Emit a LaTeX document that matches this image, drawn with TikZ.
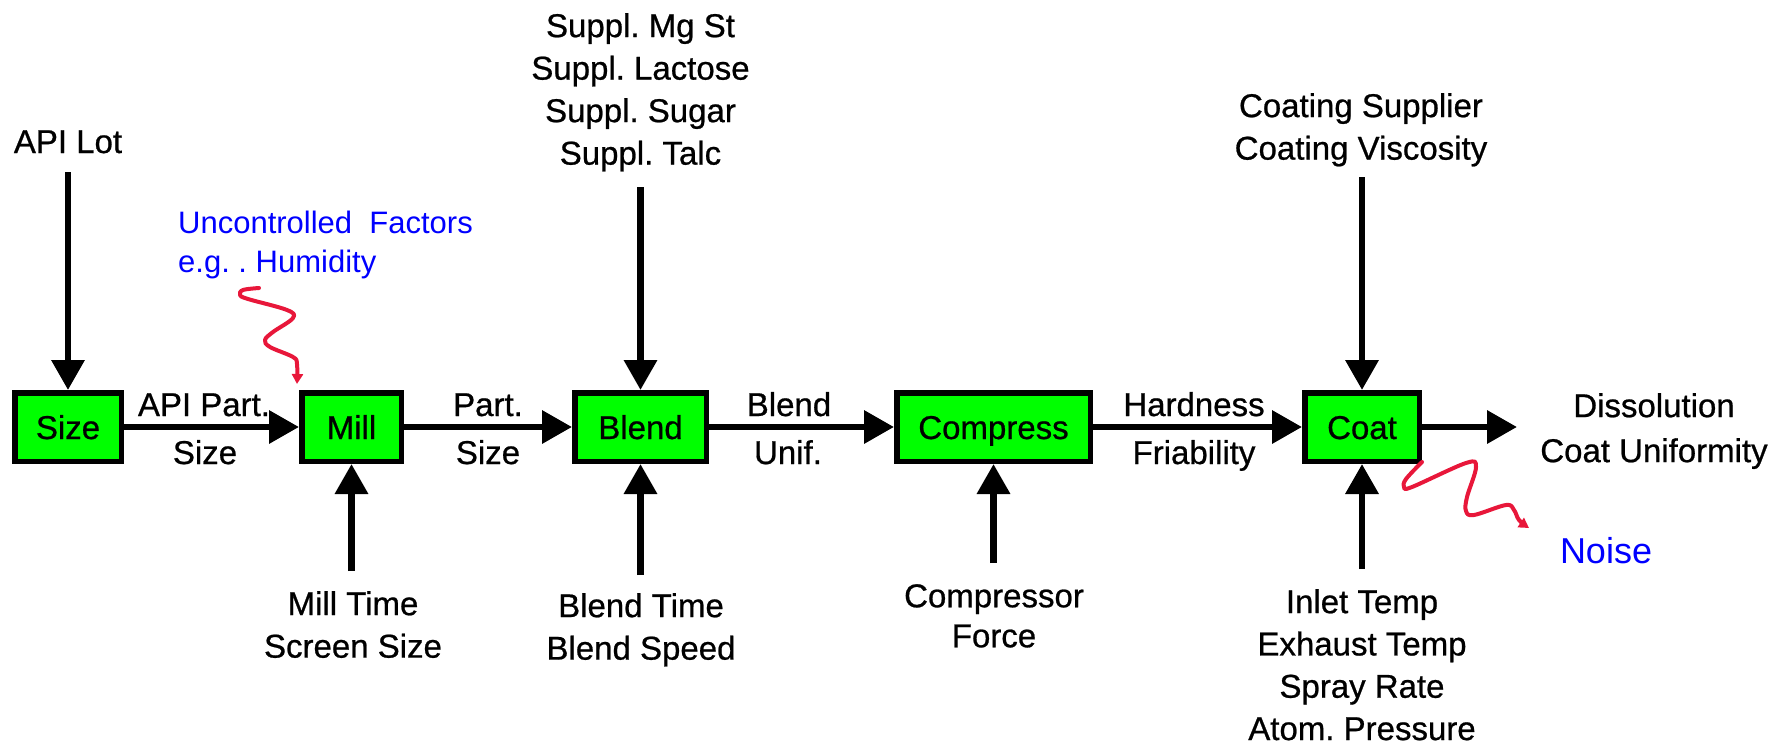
\documentclass[tikz,border=0pt]{standalone}
\usepackage{fontspec}
\setmainfont{Liberation Sans}
\newfontfamily\heavyfam[FakeBold=0.7]{Liberation Sans}
\usetikzlibrary{arrows.meta}
\definecolor{boxgreen}{RGB}{0,255,0}
\definecolor{squigred}{RGB}{232,23,58}
\definecolor{noteblue}{RGB}{0,0,255}
\newcommand\lblfont{\heavyfam\fontsize{33}{42.5}\selectfont}
\newcommand\notefont{\fontsize{31}{39}\selectfont}
\newcommand\noisefont{\fontsize{36}{42}\selectfont}
\frenchspacing
\begin{document}
\begin{tikzpicture}[x=1pt,y=-1pt,
  stepbox/.style={draw=black, fill=boxgreen, line width=5.5pt, inner sep=0pt,
    minimum height=68.5pt, font=\lblfont, text height=24pt, text depth=0pt},
  flow/.style={line width=6.5pt, -{Triangle[length=30pt,width=32pt]}},
  lbl/.style={inner sep=0pt, font=\lblfont, align=center},
  note/.style={inner sep=0pt, text=noteblue},
  squig/.style={draw=squigred, line width=4pt, line cap=round, line join=round,
    -{Triangle[length=10pt,width=11pt]}}]
\useasboundingbox (0,0) rectangle (1785,744);

% process boxes
\node[stepbox, minimum width=106.5pt] (size) at (68,427) {Size};
\node[stepbox, minimum width=99.5pt] (mill) at (351.5,427) {Mill};
\node[stepbox, minimum width=131.5pt] (blend) at (640.5,427) {Blend};
\node[stepbox, minimum width=193.5pt] (compress) at (993.5,427) {Compress};
\node[stepbox, minimum width=114.5pt] (coat) at (1362,427) {Coat};

% main flow
\coordinate (out) at (1517,427);
\draw[flow] (size.east) -- (mill.west);
\draw[flow] (mill.east) -- (blend.west);
\draw[flow] (blend.east) -- (compress.west);
\draw[flow] (compress.east) -- (coat.west);
\draw[flow] (coat.east) -- (out);

% flow labels
\node[lbl, anchor=base] (l1a) at (204,416) {API Part.};
\node[lbl, anchor=base] (l1b) at (205,464) {Size};
\node[lbl, anchor=base] (l2a) at (488,416) {Part.};
\node[lbl, anchor=base] (l2b) at (488,464) {Size};
\node[lbl, anchor=base] (l3a) at (789,416) {Blend};
\node[lbl, anchor=base] (l3b) at (788,464) {Unif.};
\node[lbl, anchor=base] (l4a) at (1194,416) {Hardness};
\node[lbl, anchor=base] (l4b) at (1194,464) {Friability};
\node[lbl, anchor=north, font=\heavyfam\fontsize{33}{45}\selectfont] (result) at (1654,393) {Dissolution\\Coat Uniformity};

% inputs from above
\node[lbl, anchor=base] (apilot) at (68,153) {API Lot};
\node[lbl, anchor=north] (suppl) at (640.5,13) {Suppl. Mg St\\Suppl. Lactose\\Suppl. Sugar\\Suppl. Talc};
\node[lbl, anchor=north] (coating) at (1361,93) {Coating Supplier\\Coating Viscosity};
\path (size.north) ++(0,-218) coordinate (lotIn);
\path (blend.north) ++(0,-203) coordinate (supplIn);
\path (coat.north) ++(0,-213) coordinate (coatTopIn);
\draw[flow] (lotIn) -- (size.north);
\draw[flow] (supplIn) -- (blend.north);
\draw[flow] (coatTopIn) -- (coat.north);

% inputs from below
\node[lbl, anchor=north] (millp) at (353,591) {Mill Time\\Screen Size};
\node[lbl, anchor=north] (blendp) at (641,593) {Blend Time\\Blend Speed};
\node[lbl, anchor=north, font=\heavyfam\fontsize{33}{40}\selectfont] (compp) at (994,584) {Compressor\\Force};
\node[lbl, anchor=north, font=\heavyfam\fontsize{33}{42.3}\selectfont] (coatp) at (1362,589) {Inlet Temp\\Exhaust Temp\\Spray Rate\\Atom. Pressure};
\path (mill.south) ++(0,107) coordinate (millIn);
\path (blend.south) ++(0,111) coordinate (blendIn);
\path (compress.south) ++(0,99) coordinate (compIn);
\path (coat.south) ++(0,105) coordinate (coatIn);
\draw[flow] (millIn) -- (mill.south);
\draw[flow] (blendIn) -- (blend.south);
\draw[flow] (compIn) -- (compress.south);
\draw[flow] (coatIn) -- (coat.south);

% uncontrolled factors / noise
\node[note, anchor=north west, align=left, font=\notefont] (uncontrolled) at (178,210.5)
  {Uncontrolled~~Factors\\e.g. . Humidity};
\node[note, anchor=base, font=\noisefont] (noise) at (1606,563) {Noise};

\draw[squig] plot[smooth, tension=0.6] coordinates {(259,288) (243,290) (240,295) (248,299) (287,310) (293,318) (273,332) (265,340) (270,347) (293,357) (297,364) (297,384)};
\draw[squig] plot[smooth, tension=0.6] coordinates {(1422,462) (1406,479) (1404,487) (1412,487) (1466,463) (1476,467) (1467,497) (1466,511) (1474,515) (1506,505) (1514,510) (1519,520) (1529,528)};
\end{tikzpicture}
\end{document}
